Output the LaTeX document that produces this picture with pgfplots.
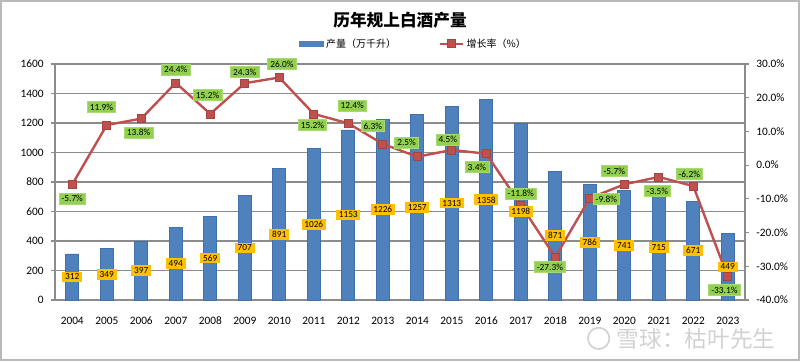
\documentclass[border=0pt]{standalone}
\usepackage{pgfplots}
\pgfplotsset{compat=1.18}
\usepackage{pgfplotstable}
\usepackage{fontspec}
\setmainfont{Carlito}
\newfontfamily\cjk{Noto Sans CJK SC}
\definecolor{barblue}{RGB}{79,129,189}
\definecolor{barblueb}{RGB}{65,113,172}
\definecolor{linered}{RGB}{192,80,77}
\definecolor{labgreen}{RGB}{146,208,80}
\definecolor{labyellow}{RGB}{255,192,0}
\definecolor{gridgray}{RGB}{140,140,140}
\pgfplotsset{/pgf/number format/assume math mode=true, /pgf/number format/1000 sep={}}
\pgfplotstableread{
x year prod g gdx gdy
0 2004 312 -5.7 0 -10.5
1 2005 349 11.9 -4 13.5
2 2006 397 13.8 -2 -10.5
3 2007 494 24.4 0 10
4 2008 569 15.2 -2 14
5 2009 707 24.3 0 8.5
6 2010 891 26.0 2 10
7 2011 1026 15.2 -1 -8.5
8 2012 1153 12.4 3 13.5
9 2013 1226 6.3 -7.5 13.5
10 2014 1257 2.5 -8 10.5
11 2015 1313 4.5 -3 8
12 2016 1358 3.4 -7 -10
13 2017 1198 -11.8 0 8.5
14 2018 871 -27.3 -4 -7.5
15 2019 786 -9.8 12.5 -0.5
16 2020 741 -5.7 -7.5 10
17 2021 715 -3.5 -1 -10.5
18 2022 671 -6.2 -3 9
19 2023 449 -33.1 -2.5 -10
}\data
\begin{document}
\begin{tikzpicture}
\path[draw=gray!55, line width=1.2pt] (0.6pt,0.6pt) rectangle (599.4pt,270.15pt);
\pgfplotsset{common/.style={
  at={(41.25pt,45.75pt)}, anchor=south west,
  scale only axis, width=517.5pt, height=177pt,
  xmin=-0.5, xmax=19.5,
  tick label style={font=\fontsize{8.5}{10}\selectfont},
}}
\begin{axis}[common,
  ymin=0, ymax=1600, ytick={0,200,...,1600},
  xtick={0,...,19},
  xticklabels={2004,2005,2006,2007,2008,2009,2010,2011,2012,2013,2014,2015,2016,2017,2018,2019,2020,2021,2022,2023},
  axis x line*=bottom, axis y line*=left,
  axis line style={-, gridgray, line width=0.8pt},
  ymajorgrids, grid style={gridgray, line width=0.8pt},
  major x tick style={draw=none},
  major y tick style={gridgray, line width=0.8pt},
  tick align=outside, major tick length=3pt,
  xticklabel style={yshift=-6pt},
  yticklabel style={xshift=-2pt},
]
\addplot[ybar, bar width=9.75pt, bar shift=0pt, fill=barblue, draw=barblueb, line width=0.5pt] table[x=x,y=prod]{\data};
\end{axis}
\begin{axis}[common,
  ymin=-40, ymax=30, ytick={-40,-30,...,30},
  axis y line*=right, axis x line=none,
  axis line style={-, gridgray, line width=0.8pt},
  major y tick style={gridgray, line width=0.8pt},
  tick align=outside, major tick length=3pt,
  yticklabel={\pgfmathprintnumber[fixed,fixed zerofill,precision=1]{\tick}\%},
  yticklabel style={xshift=2pt},
  legend style={at={(0.52,1)}, anchor=south, yshift=7pt, draw=none, fill=none,
    legend columns=2, font=\cjk\fontsize{7.5}{8}\selectfont,
    /tikz/every even column/.append style={column sep=30pt}},
]
\addlegendimage{legend image code/.code={\fill[barblue] (0pt,-2pt) rectangle (18pt,2pt);}}
\addlegendentry{产量（万千升）}
\addplot[linered, line width=1.8pt, mark=square*, mark size=3pt, mark options={fill=linered, draw=linered!85!black, line width=0.5pt}] table[x=x,y=g]{\data};
\addlegendentry{增长率（\%）}
\addplot[draw=none, mark=none, nodes near coords, point meta=explicit,
  visualization depends on={\thisrow{gdx} \as \gdx},
  visualization depends on={\thisrow{gdy} \as \gdy},
  every node near coord/.append style={anchor=center, xshift=\gdx pt, yshift=\gdy pt,
    fill=labgreen, draw=labgreen!80!white, inner xsep=2pt, inner ysep=1.7pt,
    font=\fontsize{7}{8}\selectfont, text=black},
  nodes near coords={\pgfmathprintnumber[fixed,fixed zerofill,precision=1]{\pgfplotspointmeta}\%},
  forget plot] table[x=x,y=g,meta=g]{\data};
\end{axis}
\begin{axis}[common, hide axis, ymin=0, ymax=1600]
\addplot[draw=none, mark=none, nodes near coords, point meta=explicit,
  every node near coord/.append style={anchor=center,
    fill=labyellow, inner xsep=2pt, inner ysep=1.7pt,
    font=\fontsize{7}{8}\selectfont, text=black},
  nodes near coords={\pgfmathprintnumber[fixed,precision=0]{\pgfplotspointmeta}}]
  table[x=x, y expr=\thisrow{prod}/2, meta=prod]{\data};
\end{axis}
\node[font=\cjk\bfseries\fontsize{12.5}{14}\selectfont] at (300pt,255.75pt) {历年规上白酒产量};
\node[circle, draw=gray!35, line width=1.3pt, minimum size=16pt] at (449pt,17pt) {};
\node[font=\cjk\fontsize{17}{19}\selectfont, text=gray!35, anchor=west] at (459pt,16.5pt) {雪球：枯叶先生};
\end{tikzpicture}
\end{document}
